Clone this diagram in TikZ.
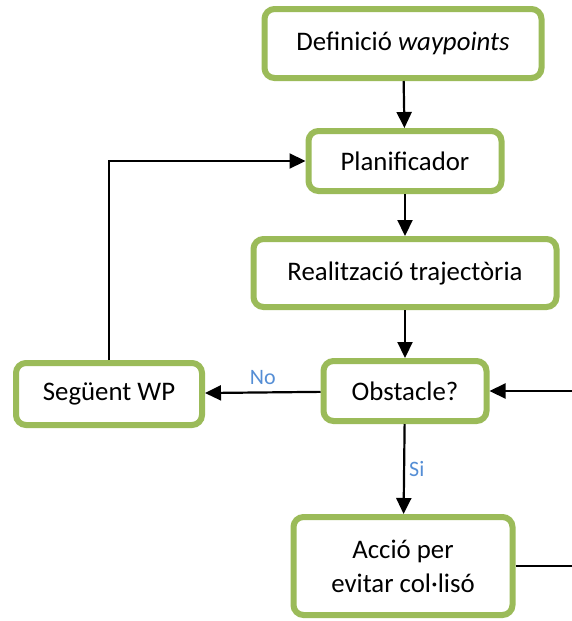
\documentclass[tikz,border=0pt]{standalone}
\usepackage{fontspec}
\setmainfont{Carlito}
\usepackage{tikz}
\usetikzlibrary{positioning, arrows.meta}
\definecolor{leaf}{HTML}{9BBB59}
\definecolor{answer}{HTML}{558ED5}

\begin{document}
\begin{tikzpicture}[
  x=0.5pt, y=-0.5pt,
  font=\fontsize{13.4}{17}\selectfont,
  every node/.style={align=center},
  box/.style={rectangle, rounded corners=5pt, draw=leaf, line width=3pt,
              fill=white, inner sep=2pt},
  arr/.style={-{Triangle[length=8pt, width=7.5pt]}, line width=1.1pt},
  ans/.style={font=\fontsize{11}{13}\selectfont, color=answer}
]
\clip (0,0) rectangle (572,621);
\node[box, minimum width=138.5pt, minimum height=34.5pt] (def) at (403,43.5)
  {Definició \textit{waypoints}};
\node[box, minimum width=96.5pt, minimum height=30pt] (plan) at (405,161)
  {Planificador};
\node[box, minimum width=151.5pt, minimum height=34pt] (real) at (405,273)
  {Realització trajectòria};
\node[box, minimum width=81.5pt, minimum height=30pt] (obst) at (405,391)
  {Obstacle?};
\node[box, minimum width=93pt, minimum height=31pt] (seg) at (109,394)
  {Següent WP};
\node[box, minimum width=109.5pt, minimum height=49pt] (accio) at (403,566)
  {Acció per\\evitar col·lisó};
% main column
\draw[arr] (def) -- (plan);
\draw[arr] (plan) -- (real);
\draw[arr] (real) -- (obst);
% no obstacle -> next waypoint
\draw[arr] (obst) -- (seg)
  node[midway, above, ans] {No};
\draw[arr] (seg.north) |- (plan.west);
% obstacle -> avoid collision
\draw[arr] (obst) -- (accio)
  node[midway, right, ans, inner sep=2pt] {Si};
\draw[arr] (accio.east) -- ++(80,0) |- (obst.east);
\end{tikzpicture}
\end{document}
